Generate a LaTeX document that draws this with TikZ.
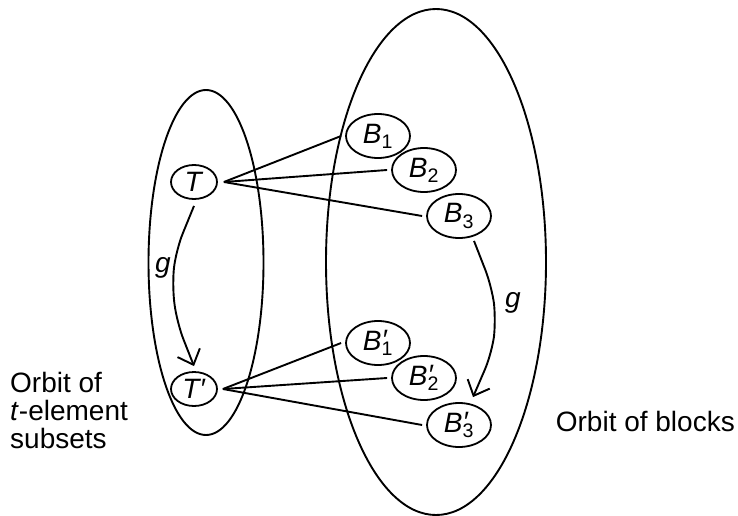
\documentclass[tikz,border=0pt]{standalone}
\usepackage{fontspec}
\setmainfont{Liberation Sans}
\usetikzlibrary{shapes.geometric,arrows.meta}

% italic letter with upright subscript, optionally primed
\newcommand{\elem}[2]{\textit{#1}\textsubscript{#2}}
\newcommand{\elemp}[2]{\textit{#1}\rlap{\raisebox{1pt}{\textit{′}}}\textsubscript{#2}}

\tikzset{
  txt/.style={font=\fontsize{28}{28}\selectfont},
  orbit/.style={draw, ellipse, line width=1.9pt, inner sep=0pt},
  tset/.style={txt, draw, ellipse, line width=1.8pt, inner sep=0pt,
    minimum width=46pt, minimum height=34pt},
  blk/.style={tset, minimum width=64pt, minimum height=44pt},
  link/.style={line width=1.9pt},
  act/.style={line width=1.9pt, rounded corners=18pt,
    -{Straight Barb[length=13pt,width=24pt]}},
  actlabel/.style={font=\fontsize{28}{28}\selectfont\itshape},
  caption/.style={font=\fontsize{28}{28}\selectfont, align=left, inner sep=0pt}
}

\begin{document}
\begin{tikzpicture}[x=1pt,y=-1pt]
  \useasboundingbox (0,0) rectangle (738,516);

  % the two orbits
  \node[orbit, minimum width=115pt, minimum height=345pt] (tor) at (206,262.5) {};
  \node[orbit, minimum width=220pt, minimum height=506pt] (bor) at (436,262) {};

  % t-subsets
  \node[tset] (T)  at (194,182) {\textit{T}};
  \node[tset] (Tp) at (194,389) {\textit{T′}};

  % blocks
  \node[blk] (B1) at (378,136) {\elem{B}{1}};
  \node[blk] (B2) at (424,170) {\elem{B}{2}};
  \node[blk] (B3) at (459,216) {\elem{B}{3}};
  \node[blk] (B1p) at (378,343) {\elemp{B}{1}};
  \node[blk] (B2p) at (424,378) {\elemp{B}{2}};
  \node[blk] (B3p) at (459,425) {\elemp{B}{3}};

  % incidences
  \coordinate (Tx)  at ([xshift=6pt]T.east);
  \coordinate (Tpx) at ([xshift=5pt]Tp.east);
  \draw[link] (Tx) -- ([xshift=-4pt]B1.west);
  \draw[link] (Tx) -- ([xshift=-4pt]B2.west);
  \draw[link] (Tx) -- ([xshift=-4pt]B3.west);
  \draw[link] (Tpx) -- ([xshift=-4pt]B1p.west);
  \draw[link] (Tpx) -- ([xshift=-4pt]B2p.west);
  \draw[link] (Tpx) -- ([xshift=-4pt]B3p.west);

  % action of g
  \draw[act] ([yshift=-6pt]T.south) -- (176,250) -- (172,285) -- (177,323)
    -- ([yshift=5pt]Tp.north);
  \draw[act] ([xshift=15pt,yshift=-2pt]B3.south) -- (492,287) -- (496,320)
    -- (492,353) -- ([xshift=14pt,yshift=5pt]B3p.north);
  \node[actlabel] (gl) at (163,268) {g};
  \node[actlabel] (gr) at (513,303) {g};

  % captions
  \node[caption, anchor=west] (lcap) at (10,410)
    {Orbit of\\\textit{t}-element\\subsets};
  \node[caption, anchor=east] (rcap) at (735,421) {Orbit of blocks};
\end{tikzpicture}
\end{document}
